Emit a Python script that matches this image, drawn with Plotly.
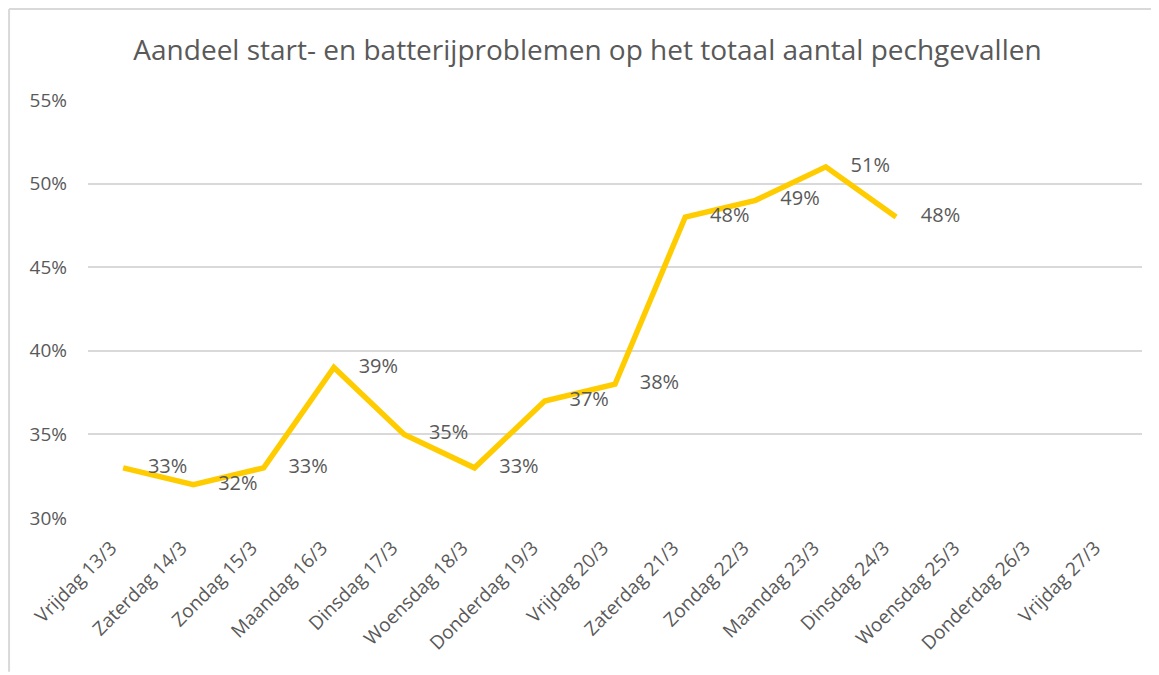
import plotly.graph_objects as go

# Data
dagen = ["Vrijdag 13/3", "Zaterdag 14/3", "Zondag 15/3", "Maandag 16/3", "Dinsdag 17/3",
         "Woensdag 18/3", "Donderdag 19/3", "Vrijdag 20/3", "Zaterdag 21/3", "Zondag 22/3",
         "Maandag 23/3", "Dinsdag 24/3", "Woensdag 25/3", "Donderdag 26/3", "Vrijdag 27/3"]
aandeel = [0.33, 0.32, 0.33, 0.39, 0.35, 0.33, 0.37, 0.38, 0.48, 0.49, 0.51, 0.48]
y_ticks = [0.30, 0.35, 0.40, 0.45, 0.50, 0.55]

font_family = "Open Sans, Noto Sans, sans-serif"
grey = "#595959"
border = dict(color="#D9D9D9", width=2)

fig = go.Figure()

fig.add_trace(go.Scatter(
    x=dagen[:len(aandeel)],
    y=aandeel,
    mode="lines+markers+text",
    line=dict(color="#FFCC00", width=5.5),
    marker=dict(size=38, color="rgba(0,0,0,0)"),
    text=[f"{v:.0%}" for v in aandeel],
    textposition="middle right",
    textfont=dict(size=20, color=grey, family=font_family),
    cliponaxis=False,
    showlegend=False,
    hoverinfo="x+y"
))

fig.update_layout(
    width=1159,
    height=675,
    margin=dict(l=80, r=25, t=92, b=165),
    paper_bgcolor="white",
    plot_bgcolor="white",
    title=dict(
        text="Aandeel start- en batterijproblemen op het totaal aantal pechgevallen",
        x=0.5, xanchor="center", y=0.938, yanchor="middle",
        font=dict(size=28, color=grey, family=font_family)
    ),
    font=dict(family=font_family, color=grey),
    # chart border: only top and left edges are in view
    shapes=[
        dict(type="line", xref="paper", yref="paper",
             x0=-0.0749, x1=1.2, y0=1.2175, y1=1.2175, line=border, layer="below"),
        dict(type="line", xref="paper", yref="paper",
             x0=-0.0749, x1=-0.0749, y0=-0.368, y1=1.2175, line=border, layer="below"),
    ]
)

fig.update_xaxes(
    type="category",
    categoryorder="array",
    categoryarray=dagen,
    range=[-0.5, len(dagen) - 0.5],
    tickangle=-45,
    tickfont=dict(size=19, color=grey, family=font_family),
    showgrid=False,
    showline=False,
    ticks="",
    ticklabelstandoff=14,
    ticklabelshift=-12,
    automargin=False
)

fig.update_yaxes(
    range=[0.30, 0.55],
    tickvals=y_ticks,
    tickformat=".0%",
    tickfont=dict(size=19, color=grey, family=font_family),
    gridcolor="#D9D9D9",
    gridwidth=1.5,
    zeroline=False,
    showline=False,
    ticks="",
    ticklabelstandoff=20,
    automargin=False
)

fig.write_html("out.html")
